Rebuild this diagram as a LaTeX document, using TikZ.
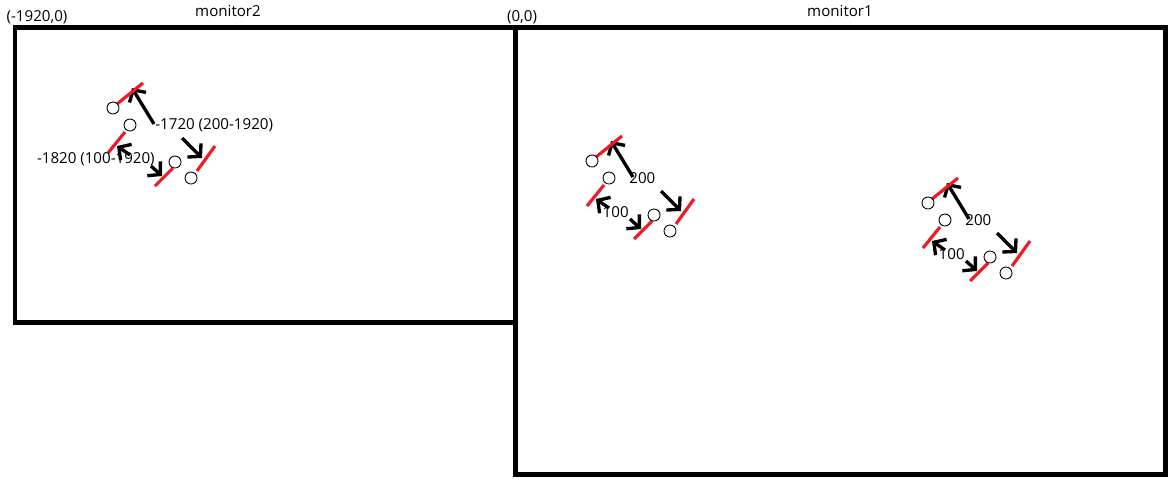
\documentclass[tikz,border=0pt]{standalone}
\usepackage{fontspec}
\setmainfont{Open Sans}
\usetikzlibrary{arrows.meta}

\tikzset{
  screen/.style={draw=black,line width=0.1cm},
  dot/.style={circle,draw=black,fill=white,line width=0.5pt,inner sep=0pt,minimum size=0.24cm},
  redline/.style={draw={rgb,255:red,237;green,28;blue,36},line width=1.8pt},
  pointer/.style={draw=black,line width=1.9pt,-{Straight Barb[length=5pt,width=11pt]}},
  tag/.style={inner sep=0pt,font=\fontsize{8.6}{10}\selectfont}
}

\begin{document}
\begin{tikzpicture}[x=0.02cm,y=-0.02cm]
    \useasboundingbox (0,0) rectangle (1172,484);
    % the two screens
    \path[screen] (15,27) rectangle (515,322);
    \path[screen] (515,27) rectangle (1165,474);
    \node[tag] (name2) at (228,11) {monitor2};
    \node[tag] (name1) at (840,11) {monitor1};
    \node[tag] (orig2) at (37,17) {(-1920,0)};
    \node[tag] (orig1) at (522,17) {(0,0)};
    % one set of cursors per window
    \foreach \cx/\cy/\up/\dn/\lx [count=\i] in {592/161/200/100/37, 928/203/200/100/37,
        113/108/{-1720 (200-1920)}/{-1820 (100-1920)}/42}
    {
      \begin{scope}[shift={(\cx,\cy)}]
        \coordinate (r1a-\i) at (4,-4);    \coordinate (r1b-\i) at (30,-25);
        \coordinate (r2a-\i) at (-5,45);   \coordinate (r2b-\i) at (12,24);
        \coordinate (r3a-\i) at (42,78);   \coordinate (r3b-\i) at (60,60);
        \coordinate (r4a-\i) at (84,63);   \coordinate (r4b-\i) at (102,38);
        \coordinate (p1a-\i) at (41,16);   \coordinate (p1b-\i) at (19,-20);
        \coordinate (p2a-\i) at (17,47);   \coordinate (p2b-\i) at (4,38);
        \coordinate (p3a-\i) at (38,58);   \coordinate (p3b-\i) at (49,68);
        \coordinate (p4a-\i) at (69,30);   \coordinate (p4b-\i) at (89,50);
        \path[pointer] (p1a-\i) -- (p1b-\i);
        \path[pointer] (p2a-\i) -- (p2b-\i);
        \path[pointer] (p3a-\i) -- (p3b-\i);
        \path[pointer] (p4a-\i) -- (p4b-\i);
        \path[redline] (r1a-\i) -- (r1b-\i);
        \path[redline] (r2a-\i) -- (r2b-\i);
        \path[redline] (r3a-\i) -- (r3b-\i);
        \path[redline] (r4a-\i) -- (r4b-\i);
        \node[dot] (a-\i) at (0,0) {};
        \node[dot] (b-\i) at (17,17) {};
        \node[dot] (c-\i) at (62,54) {};
        \node[dot] (d-\i) at (78,70) {};
        \node[tag,anchor=west] (up-\i) at (\lx,17) {\up};
        \node[tag,anchor=east] (dn-\i) at (\lx,51) {\dn};
      \end{scope}
    }
\end{tikzpicture}
\end{document}
